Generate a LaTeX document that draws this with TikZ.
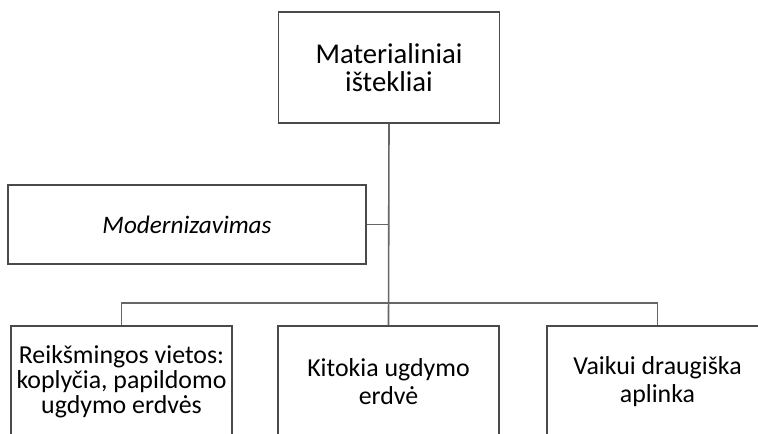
\documentclass[tikz,border=0pt]{standalone}
\usepackage{fontspec}
\setmainfont{Carlito}
\begin{document}
\begin{tikzpicture}[x=0.75pt,y=-0.75pt,
  box/.style={draw=boxline, line width=1.1pt, fill=white, minimum width=166pt,
    inner sep=0pt, align=center, font=\fontsize{19.4}{21}\selectfont},
  link/.style={draw=linkgray, line width=1.2pt}]
\definecolor{boxline}{HTML}{4A4A4A}
\definecolor{linkgray}{HTML}{666666}
\useasboundingbox (0,0) rectangle (758,433);
\clip (0,0) rectangle (758,433);
\fill[white] (0,0) rectangle (758,433);

% top box
\node[box, minimum height=83.25pt, font=\fontsize{21.5}{21}\selectfont] (top) at (389,67.5)
  {Materialiniai\\ištekliai};
% side box
\node[box, minimum width=268.5pt, minimum height=59.25pt, font=\fontsize{18.9}{21}\selectfont]
  (mod) at (187,224.5) {\itshape Modernizavimas};
% bottom row
\node[box, minimum height=83.25pt, font=\fontsize{19.4}{18.75}\selectfont] (b1) at (121.5,381.5)
  {Reikšmingos vietos:\\koplyčia, papildomo\\ugdymo erdvės};
\node[box, minimum height=83.25pt] (b2) at (388.5,381.5) {Kitokia ugdymo\\erdvė};
\node[box, minimum height=83.25pt] (b3) at (657.5,381.5) {Vaikui draugiška\\aplinka};

\coordinate (bus) at (389,303);
\draw[link] (top.south) -- (b2.north);
\draw[link] (mod.east) -- (mod.east -| top.south);
\draw[link] (b1.north) |- (bus) -| (b3.north);
\end{tikzpicture}
\end{document}
